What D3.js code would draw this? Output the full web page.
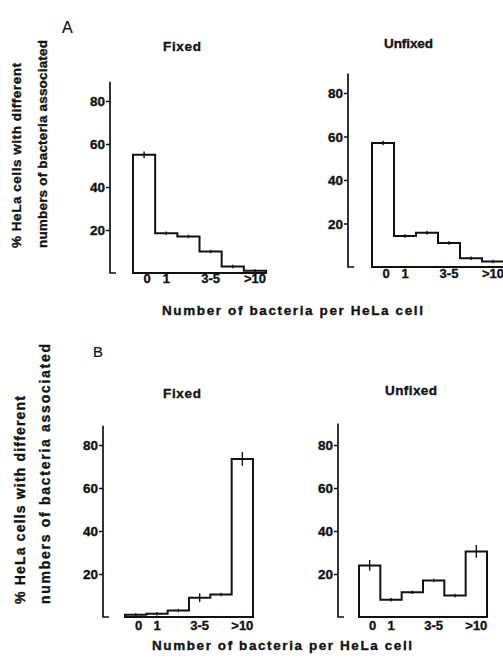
<!DOCTYPE html>
<html><head><meta charset="utf-8">
<script src="https://cdn.jsdelivr.net/npm/d3@7/dist/d3.min.js"></script>
<style>
html,body{margin:0;padding:0;background:#fff;}
svg text{font-family:"Liberation Sans",Arial,sans-serif;font-weight:bold;fill:#111;stroke:#111;stroke-width:0.35px;}
</style></head>
<body>
<svg id="c" width="503" height="662"></svg>
<script>
const categories = ["0","1","2","3-5","6-10",">10"];
const xTickLabels = ["0","1","","3-5","",">10"];
const yTicks = [20,40,60,80];
const aFixed = [55, 18.5, 17, 10, 3, 1];
const aFixedErr = [1.5, 0.8, 0.8, 0.8, 0.5, 0.3];
const aUnfixed = [57, 14.3, 15.8, 11, 4, 2.5];
const aUnfixedErr = [1, 0.5, 0.3, 0.8, 0.3, 0.3];
const bFixed = [1, 1.5, 3, 9, 10.5, 73.5];
const bFixedErr = [0.5, 0.3, 0.3, 2, 0.5, 3.2];
const bUnfixed = [24, 8, 11.5, 17, 10, 30.5];
const bUnfixedErr = [2.5, 0.5, 0.7, 0.5, 0.5, 3];
const panelLetters = ["A","B"];
const panelTitles = ["Fixed","Unfixed"];
const yTitle = ["% HeLa cells with different","numbers of bacteria associated"];
const xTitle = "Number of bacteria per HeLa cell";

const svg = d3.select("#c");

const panels = [
  {vals:aFixed, err:aFixedErr, axisX:110, x0:133, x1:266, y0:273, u20:43, top:89, lab:283},
  {vals:aUnfixed, err:aUnfixedErr, axisX:348, x0:372, x1:504, y0:267, u20:43.5, top:89, lab:278},
  {vals:bFixed, err:bFixedErr, axisX:103, x0:125, x1:253, y0:617, u20:43, top:89, lab:630},
  {vals:bUnfixed, err:bUnfixedErr, axisX:338, x0:359, x1:487, y0:617, u20:43, top:90, lab:630}
];

panels.forEach(p => {
  const x = d3.scaleBand().domain(categories).range([p.x0, p.x1]).paddingInner(0).paddingOuter(0);
  const y = d3.scaleLinear().domain([0, 20]).range([p.y0, p.y0 - p.u20]);
  const g = svg.append("g");
  const ax = d3.axisLeft(y).tickValues(yTicks).tickSize(4).tickPadding(1).tickFormat(d3.format("d"));
  const ag = g.append("g").attr("transform", `translate(${p.axisX},0)`).call(ax);
  ag.select(".domain").remove();
  ag.selectAll(".tick line").attr("stroke","#111").attr("stroke-width",1.5);
  ag.selectAll(".tick text").style("font-size","13.5px").attr("dy","0.35em");
  g.append("path")
    .attr("d", `M${p.axisX},${y(p.top)}L${p.axisX},${y(0)}L${p.axisX+6},${y(0)}`)
    .attr("fill","none").attr("stroke","#111").attr("stroke-width",1.7);
  const pts = categories.map((c,i) => [x(c), y(p.vals[i])]);
  pts.push([x(categories[categories.length-1]) + x.bandwidth(), y(p.vals[p.vals.length-1])]);
  const step = d3.line().curve(d3.curveStepAfter)(pts);
  g.append("path")
    .attr("d", `M${p.x0},${y(0)}L${pts[0][0]},${pts[0][1]}` + step.replace(/^M[^L]*/, "") + `L${p.x1},${y(0)}Z`)
    .attr("fill","none").attr("stroke","#111").attr("stroke-width",2).attr("stroke-linejoin","miter");
  g.selectAll(".eb").data(categories).enter().append("line")
    .attr("x1", c => x(c) + x.bandwidth()/2).attr("x2", c => x(c) + x.bandwidth()/2)
    .attr("y1", (c,i) => y(p.vals[i] + Math.max(p.err[i], 0.8)))
    .attr("y2", (c,i) => y(p.vals[i] - Math.max(p.err[i], 0.8)))
    .attr("stroke","#111").attr("stroke-width",1.4);
  g.selectAll(".xl").data(categories).enter().append("text")
    .attr("x", c => x(c) + x.bandwidth()/2 + (c==="0"?3:0))
    .attr("y", p.lab)
    .attr("text-anchor","middle").style("font-size","13px")
    .text((c,i) => xTickLabels[i]);
});

svg.append("text").attr("x",62).attr("y",33).style("font-size","16px").style("font-weight","normal").style("stroke-width","0.2px").text(panelLetters[0]);
svg.append("text").attr("x",93).attr("y",357).style("font-size","15px").style("font-weight","normal").style("stroke-width","0.2px").text(panelLetters[1]);
svg.append("text").attr("x",163).attr("y",51).style("font-size","13.5px").attr("textLength",38).text(panelTitles[0]);
svg.append("text").attr("x",384).attr("y",48).style("font-size","13.5px").attr("textLength",49).text(panelTitles[1]);
svg.append("text").attr("x",163).attr("y",398).style("font-size","13.5px").attr("textLength",38).text(panelTitles[0]);
svg.append("text").attr("x",385).attr("y",395).style("font-size","13.5px").attr("textLength",52).text(panelTitles[1]);

svg.append("text").attr("x",162).attr("y",315).style("font-size","13.5px").attr("textLength",261).attr("lengthAdjust","spacing").text(xTitle);
svg.append("text").attr("x",152).attr("y",650).style("font-size","13.5px").attr("textLength",260).attr("lengthAdjust","spacing").text(xTitle);

function yLab(cx, by, len, txt, fs){
  svg.append("text").attr("transform",`translate(${cx},${by}) rotate(-90)`)
    .style("font-size",fs+"px").attr("textLength",len).attr("lengthAdjust","spacing").text(txt);
}
yLab(21, 248, 185, yTitle[0], 13.5);
yLab(47, 248, 208, yTitle[1], 13.5);
yLab(25, 604, 208, yTitle[0], 14);
yLab(50, 604, 260, yTitle[1], 14);
</script>
</body></html>
